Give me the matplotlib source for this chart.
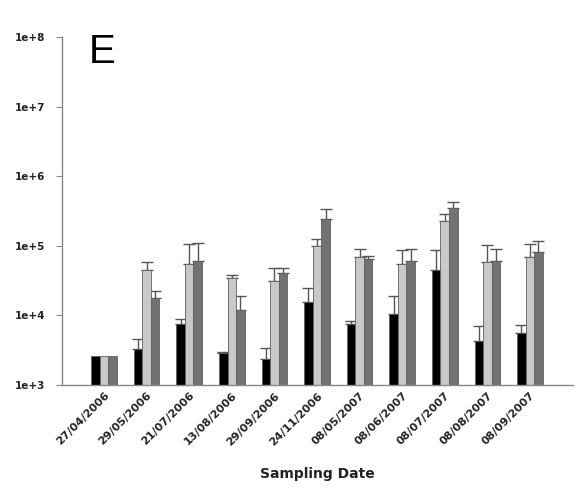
import matplotlib
matplotlib.use("Agg")
import matplotlib.pyplot as plt
import numpy as np
from matplotlib.ticker import FixedLocator, FuncFormatter, NullLocator

dates = ["27/04/2006", "29/05/2006", "21/07/2006", "13/08/2006", "29/09/2006",
         "24/11/2006", "08/05/2007", "08/06/2007", "08/07/2007", "08/08/2007",
         "08/09/2007"]

black_vals = [2600, 3300, 7500, 2850, 2400, 15700, 7500, 10300, 45000, 4300, 5600]
black_err_top = [2600, 4600, 8800, 2950, 3400, 24500, 8400, 19200, 87000, 7000, 7300]

light_vals = [2600, 45000, 54000, 35000, 31500, 99000, 70000, 55000, 227000, 58000, 70000]
light_err_top = [2600, 58000, 107000, 38500, 48000, 126000, 89000, 86000, 289000, 102000, 106000]

dark_vals = [2600, 17800, 60000, 12000, 40000, 240000, 64000, 61000, 352000, 60000, 82000]
dark_err_top = [2600, 22600, 111000, 18700, 48000, 334000, 71000, 91000, 421000, 91000, 116000]

series = [
    (black_vals, black_err_top, "#000000"),
    (light_vals, light_err_top, "#c8c8c8"),
    (dark_vals, dark_err_top, "#727272"),
]

fig = plt.figure(figsize=(5.77, 4.90), dpi=100)
ax = fig.add_axes([0.1075, 0.2143, 0.8855, 0.7102])

x = np.arange(len(dates))
width = 0.2
offsets = [-width, 0.0, width]

for (vals, tops, color), off in zip(series, offsets):
    vals = np.array(vals, dtype=float)
    tops = np.array(tops, dtype=float)
    ax.bar(x + off, vals - 1000, width=width, bottom=1000, color=color,
           edgecolor="#606060", linewidth=0.6, zorder=2)
    upper = np.clip(tops - vals, 0, None)
    mask = upper > 0
    ax.errorbar((x + off)[mask], vals[mask],
                yerr=[np.zeros(mask.sum()), upper[mask]],
                fmt="none", ecolor="#555555", elinewidth=1.0, capsize=4,
                capthick=1.0, zorder=1)

ax.set_yscale("log")
ax.set_ylim(1e3, 1e8)
ax.set_xlim(-0.986, 11.01)

ax.yaxis.set_major_locator(FixedLocator([1e3, 1e4, 1e5, 1e6, 1e7, 1e8]))
ax.yaxis.set_minor_locator(NullLocator())
ax.yaxis.set_major_formatter(FuncFormatter(lambda v, p: "1e+%d" % int(round(np.log10(v)))))

ax.set_xticks(x)
ax.set_xticklabels(dates, rotation=45, ha="right", rotation_mode="anchor",
                   fontsize=8, fontweight="bold", color="#222222")
ax.tick_params(axis="x", length=0, pad=4)
ax.tick_params(axis="y", direction="out", length=4, width=0.8, color="#888888",
               labelsize=7.5, pad=8)
for lab in ax.get_yticklabels():
    lab.set_fontweight("bold")
    lab.set_color("#222222")

for s in ["top", "right"]:
    ax.spines[s].set_visible(False)
for s in ["left", "bottom"]:
    ax.spines[s].set_color("#888888")
    ax.spines[s].set_linewidth(1.0)

ax.set_xlabel("Sampling Date", fontsize=10, fontweight="bold", color="#222222",
              labelpad=14)

ax.text(0.053, 0.925, "E", transform=ax.transAxes, fontsize=29, va="baseline",
        ha="left", color="#000000", family="Liberation Sans")

fig.savefig("out.png", dpi=100)
